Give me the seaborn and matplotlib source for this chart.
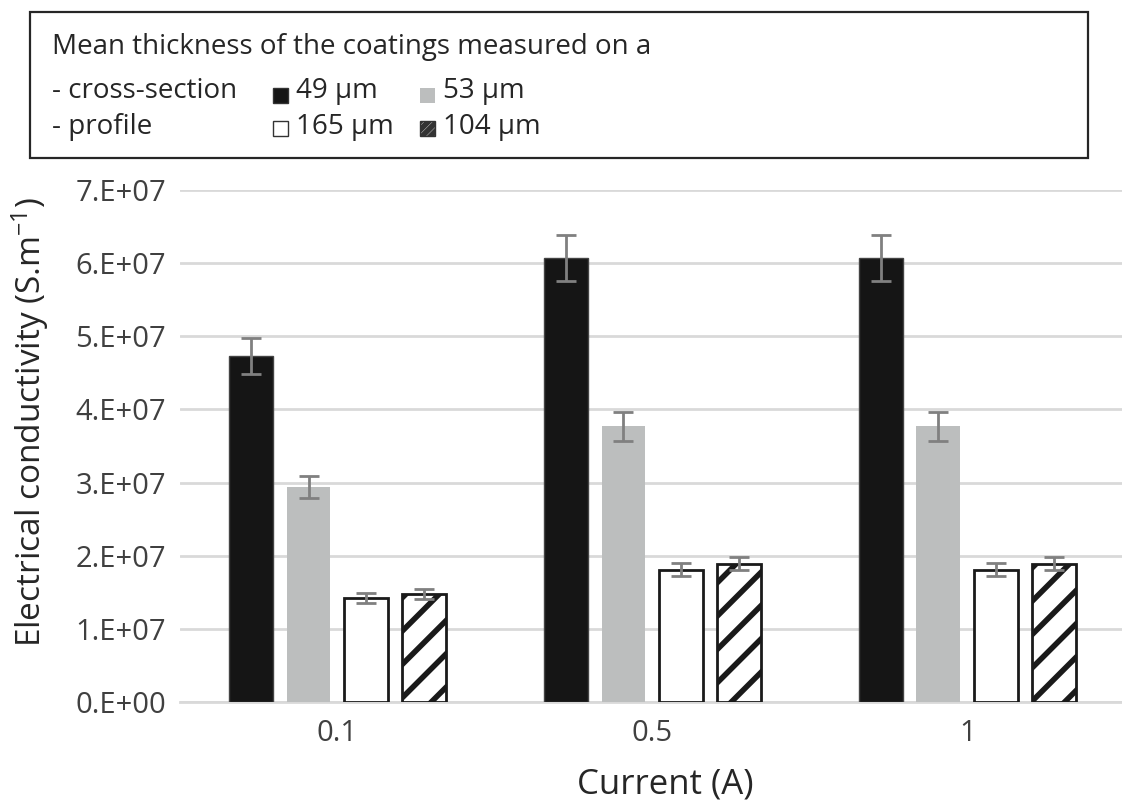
import numpy as np
import pandas as pd
import seaborn as sns
import matplotlib.pyplot as plt
from matplotlib.patches import Rectangle

# Werte
currents = ["0.1", "0.5", "1"]
samples = ["49 µm", "53 µm", "165 µm", "104 µm"]
conductivity = {
    "49 µm": [4.73e7, 6.07e7, 6.07e7],
    "53 µm": [2.94e7, 3.77e7, 3.77e7],
    "165 µm": [1.42e7, 1.81e7, 1.81e7],
    "104 µm": [1.48e7, 1.89e7, 1.89e7],
}
errors = {
    "49 µm": [0.25e7, 0.31e7, 0.31e7],
    "53 µm": [0.15e7, 0.20e7, 0.20e7],
    "165 µm": [0.07e7, 0.09e7, 0.09e7],
    "104 µm": [0.07e7, 0.09e7, 0.09e7],
}
colors = {"49 µm": "#151515", "53 µm": "#bcbebe", "165 µm": "white", "104 µm": "white"}
yticks = np.arange(0, 8e7, 1e7)
ytick_labels = ["0.E+00", "1.E+07", "2.E+07", "3.E+07", "4.E+07", "5.E+07", "6.E+07", "7.E+07"]

rows = []
for s in samples:
    for c, v in zip(currents, conductivity[s]):
        rows.append({"Current": c, "Sample": s, "Value": v})
df = pd.DataFrame(rows)

sns.set_style("white")
plt.rcParams["font.family"] = ["Open Sans", "DejaVu Sans"]
plt.rcParams["mathtext.fontset"] = "custom"
plt.rcParams["mathtext.rm"] = "Open Sans"
plt.rcParams["mathtext.it"] = "Open Sans:italic"
plt.rcParams["hatch.linewidth"] = 4
plt.rcParams["hatch.color"] = "black"

fig = plt.figure(figsize=(11.22, 8.1), dpi=100)
ax = fig.add_axes([0.1604, 0.1333, 0.842, 0.6321])

sns.barplot(data=df, x="Current", y="Value", hue="Sample", order=currents,
            hue_order=samples, palette=colors, width=0.733, gap=0.24,
            errorbar=None, legend=False, saturation=1, zorder=3, ax=ax)

# Balken stylen + Fehlerbalken
for cont, s in zip(ax.containers, samples):
    xs = []
    for bar in cont:
        xs.append(bar.get_x() + bar.get_width() / 2)
        if s == "53 µm":
            bar.set_edgecolor("none")
        elif s == "49 µm":
            bar.set_edgecolor("#444444")
            bar.set_linewidth(1)
        else:
            bar.set_edgecolor("#1a1a1a")
            bar.set_linewidth(2)
        if s == "104 µm":
            bar.set_hatch("/")
    ax.errorbar(xs, conductivity[s], yerr=errors[s], fmt="none", ecolor="#808080",
                elinewidth=2, capsize=7, capthick=2, zorder=4)

ax.set_xlim(-0.5, 2.5)
ax.set_ylim(0, 7e7)
ax.set_yticks(yticks)
ax.set_yticklabels(ytick_labels)
ax.yaxis.grid(True, color="#d9d9d9", linewidth=2, zorder=0)
ax.set_axisbelow(True)
sns.despine(ax=ax, left=True, top=True, right=True)
ax.spines["bottom"].set_color("#d9d9d9")
ax.spines["bottom"].set_linewidth(2)
ax.tick_params(axis="both", length=0, labelsize=21, colors="#404040")
ax.tick_params(axis="y", pad=10)
ax.tick_params(axis="x", pad=12)
ax.set_xlabel("Current (A)", fontsize=25, color="#262626")
ax.xaxis.set_label_coords(0.514, -0.128)
ax.set_ylabel("Electrical conductivity (S.m$^{-1}$)", fontsize=24, color="#262626")
ax.yaxis.set_label_coords(-0.136, 0.547)

# Legendenkasten oben
fig.patches.append(Rectangle((30 / 1122, 1 - 158 / 810), 1058 / 1122, 146 / 810,
                             transform=fig.transFigure, fill=False,
                             edgecolor="#262626", linewidth=1.6))
tkw = dict(fontsize=20, color="#262626", va="baseline")
fig.text(52 / 1122, 1 - 54 / 810, "Mean thickness of the coatings measured on a", **tkw)
fig.text(52 / 1122, 1 - 98 / 810, "- cross-section", **tkw)
fig.text(52 / 1122, 1 - 134 / 810, "- profile", **tkw)
# (Kästchen x, Kästchen-Mitte y, Text x, Grundlinie y) in Pixeln
legend_pos = {"49 µm": (273, 95, 296, 98), "53 µm": (420, 95, 443, 98),
              "165 µm": (273, 128, 296, 134), "104 µm": (420, 128, 443, 134)}
for s in samples:
    px, py, tx, ty = legend_pos[s]
    ec = "none" if s == "53 µm" else "#333333"
    fig.patches.append(Rectangle((px / 1122, 1 - (py + 7.5) / 810), 15 / 1122, 15 / 810,
                                 transform=fig.transFigure, facecolor=colors[s],
                                 edgecolor=ec, linewidth=1,
                                 hatch="////" if s == "104 µm" else None))
    fig.text(tx / 1122, 1 - ty / 810, s, **tkw)

fig.savefig("out.png", dpi=100)
